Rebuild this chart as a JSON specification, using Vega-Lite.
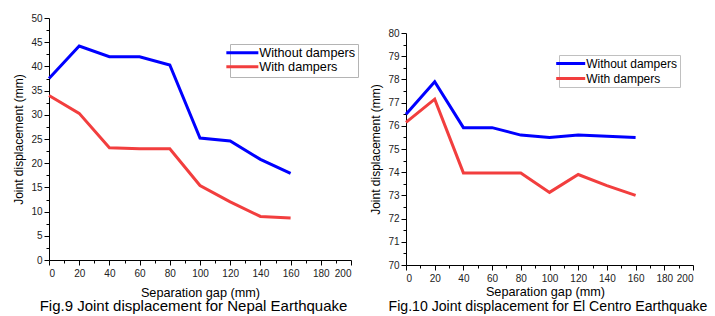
{
  "$schema": "https://vega.github.io/schema/vega-lite/v6.json",
  "padding": {"left": 12, "top": 13, "right": 0, "bottom": 0},
  "spacing": 10,
  "background": "white",
  "resolve": {"scale": {"color": "independent"}, "legend": {"color": "independent"}},
  "config": {
    "view": {"stroke": null},
    "font": "Liberation Sans",
    "axis": {
      "grid": false,
      "domainColor": "#000",
      "domainWidth": 1,
      "tickColor": "#000",
      "labelColor": "#222",
      "labelFontSize": 10,
      "labelFont": "Liberation Sans",
      "titleFont": "Liberation Sans",
      "titleFontWeight": "normal",
      "titleColor": "#000"
    },
    "legend": {
      "labelFont": "Liberation Sans",
      "labelColor": "#000"
    },
    "title": {"font": "Liberation Sans", "fontWeight": "normal", "color": "#000"}
  },
  "datasets": {
    "pts": [
      {"quake": "Nepal", "series": "Without dampers", "gap": 0, "disp": 37.5},
      {"quake": "Nepal", "series": "Without dampers", "gap": 20, "disp": 44.2},
      {"quake": "Nepal", "series": "Without dampers", "gap": 40, "disp": 42.0},
      {"quake": "Nepal", "series": "Without dampers", "gap": 60, "disp": 42.0},
      {"quake": "Nepal", "series": "Without dampers", "gap": 80, "disp": 40.3},
      {"quake": "Nepal", "series": "Without dampers", "gap": 100, "disp": 25.2},
      {"quake": "Nepal", "series": "Without dampers", "gap": 120, "disp": 24.6},
      {"quake": "Nepal", "series": "Without dampers", "gap": 140, "disp": 20.8},
      {"quake": "Nepal", "series": "Without dampers", "gap": 160, "disp": 17.9},
      {"quake": "Nepal", "series": "With dampers", "gap": 0, "disp": 34.0},
      {"quake": "Nepal", "series": "With dampers", "gap": 20, "disp": 30.3},
      {"quake": "Nepal", "series": "With dampers", "gap": 40, "disp": 23.2},
      {"quake": "Nepal", "series": "With dampers", "gap": 60, "disp": 23.0},
      {"quake": "Nepal", "series": "With dampers", "gap": 80, "disp": 23.0},
      {"quake": "Nepal", "series": "With dampers", "gap": 100, "disp": 15.4},
      {"quake": "Nepal", "series": "With dampers", "gap": 120, "disp": 12.0},
      {"quake": "Nepal", "series": "With dampers", "gap": 140, "disp": 9.0},
      {"quake": "Nepal", "series": "With dampers", "gap": 160, "disp": 8.7},
      {"quake": "El Centro", "series": "Without dampers", "gap": 0, "disp": 76.5},
      {"quake": "El Centro", "series": "Without dampers", "gap": 20, "disp": 77.9},
      {"quake": "El Centro", "series": "Without dampers", "gap": 40, "disp": 75.92},
      {"quake": "El Centro", "series": "Without dampers", "gap": 60, "disp": 75.92},
      {"quake": "El Centro", "series": "Without dampers", "gap": 80, "disp": 75.6},
      {"quake": "El Centro", "series": "Without dampers", "gap": 100, "disp": 75.5},
      {"quake": "El Centro", "series": "Without dampers", "gap": 120, "disp": 75.6},
      {"quake": "El Centro", "series": "Without dampers", "gap": 140, "disp": 75.55},
      {"quake": "El Centro", "series": "Without dampers", "gap": 160, "disp": 75.5},
      {"quake": "El Centro", "series": "With dampers", "gap": 0, "disp": 76.15},
      {"quake": "El Centro", "series": "With dampers", "gap": 20, "disp": 77.15},
      {"quake": "El Centro", "series": "With dampers", "gap": 40, "disp": 73.97},
      {"quake": "El Centro", "series": "With dampers", "gap": 60, "disp": 73.97},
      {"quake": "El Centro", "series": "With dampers", "gap": 80, "disp": 73.97},
      {"quake": "El Centro", "series": "With dampers", "gap": 100, "disp": 73.13},
      {"quake": "El Centro", "series": "With dampers", "gap": 120, "disp": 73.9},
      {"quake": "El Centro", "series": "With dampers", "gap": 140, "disp": 73.42},
      {"quake": "El Centro", "series": "With dampers", "gap": 160, "disp": 73.0}
    ],
    "spacer": []
  },
  "hconcat": [
    {
      "width": 302,
      "height": 242,
      "data": {"name": "pts"},
      "transform": [{"filter": "datum.quake === 'Nepal'"}],
      "title": {"text": "Fig.9 Joint displacement for Nepal Earthquake", "orient": "bottom", "fontSize": 15, "offset": 0, "anchor": "middle", "frame": "group", "dx": -6.5},
      "mark": {"type": "line", "strokeWidth": 3, "clip": false},
      "encoding": {
        "x": {
          "field": "gap", "type": "quantitative",
          "scale": {"domain": [0, 200], "nice": false},
          "axis": {
            "title": "Separation gap (mm)", "titleFontSize": 12.7, "titlePadding": 8,
            "values": [0,10,20,30,40,50,60,70,80,90,100,110,120,130,140,150,160,170,180,190,200],
            "labelExpr": "datum.value % 20 === 0 ? format(datum.value, 'd') : ''",
            "tickSize": {"condition": {"test": "datum.value % 20 === 0", "value": 5}, "value": 3},
            "labelPadding": 3
          }
        },
        "y": {
          "field": "disp", "type": "quantitative",
          "scale": {"domain": [0, 50], "nice": false},
          "axis": {
            "title": "Joint displacement (mm)", "titleFontSize": 12, "titlePadding": 5,
            "values": [0,2.5,5,7.5,10,12.5,15,17.5,20,22.5,25,27.5,30,32.5,35,37.5,40,42.5,45,47.5,50],
            "labelExpr": "datum.value % 5 === 0 ? format(datum.value, 'd') : ''",
            "tickSize": {"condition": {"test": "datum.value % 5 === 0", "value": 5}, "value": 3},
            "labelPadding": 2
          }
        },
        "color": {
          "field": "series", "type": "nominal",
          "scale": {"domain": ["Without dampers", "With dampers"], "range": ["#0000ff", "#f23e3e"]},
          "legend": {
            "title": null, "orient": "none", "legendX": 181, "legendY": 26,
            "symbolType": "M-4,0H4", "symbolStrokeWidth": 3, "symbolSize": 64,
            "symbolOffset": 3.5, "labelOffset": 10.5,
            "labelFontSize": 12.7, "rowPadding": 0,
            "strokeColor": "#b4b4b4", "fillColor": "white", "padding": 2.5,
            "encode": {"legend": {"update": {"stroke": {"value": "#b4b4b4"}, "strokeWidth": {"value": 1}, "fill": {"value": "white"}}}}
          }
        }
      }
    },
    {
      "spacing": 6,
      "resolve": {"scale": {"color": "independent"}, "legend": {"color": "independent"}},
      "vconcat": [
        {
          "width": 287, "height": 4,
          "data": {"name": "spacer"},
          "mark": "point",
          "encoding": {}
        },
        {
          "width": 287,
          "height": 232,
          "data": {"name": "pts"},
          "transform": [{"filter": "datum.quake === 'El Centro'"}],
          "title": {"text": "Fig.10 Joint displacement for El Centro Earthquake", "orient": "bottom", "fontSize": 14.1, "offset": 2, "anchor": "middle", "frame": "group", "dx": -1.5},
          "mark": {"type": "line", "strokeWidth": 3, "clip": false},
          "encoding": {
            "x": {
              "field": "gap", "type": "quantitative",
              "scale": {"domain": [0, 200], "nice": false},
              "axis": {
                "title": "Separation gap (mm)", "titleFontSize": 12.7, "titlePadding": 2, "titleX": 139,
                "values": [0,10,20,30,40,50,60,70,80,90,100,110,120,130,140,150,160,170,180,190,200],
                "labelExpr": "datum.value % 20 === 0 ? format(datum.value, 'd') : ''",
                "tickSize": {"condition": {"test": "datum.value % 20 === 0", "value": 5}, "value": 3},
                "labelPadding": 3
              }
            },
            "y": {
              "field": "disp", "type": "quantitative",
              "scale": {"domain": [70, 80], "nice": false},
              "axis": {
                "title": "Joint displacement (mm)", "titleFontSize": 12, "titlePadding": 5,
                "values": [70,70.5,71,71.5,72,72.5,73,73.5,74,74.5,75,75.5,76,76.5,77,77.5,78,78.5,79,79.5,80],
                "labelExpr": "datum.value % 1 === 0 ? format(datum.value, 'd') : ''",
                "tickSize": {"condition": {"test": "datum.value % 1 === 0", "value": 5}, "value": 3},
                "labelPadding": 2
              }
            },
            "color": {
              "field": "series", "type": "nominal",
              "scale": {"domain": ["Without dampers", "With dampers"], "range": ["#0000ff", "#f23e3e"]},
              "legend": {
                "title": null, "orient": "none", "legendX": 153, "legendY": 22,
                "symbolType": "M-3.625,0H3.625", "symbolStrokeWidth": 3, "symbolSize": 64,
                "symbolOffset": 3.2, "labelOffset": 9.5,
                "labelFontSize": 12, "rowPadding": 3,
                "strokeColor": "#c0c0c0", "fillColor": "white", "padding": 2.5,
                "encode": {"legend": {"update": {"stroke": {"value": "#c0c0c0"}, "strokeWidth": {"value": 1}, "fill": {"value": "white"}}}}
              }
            }
          }
        }
      ]
    }
  ]
}
